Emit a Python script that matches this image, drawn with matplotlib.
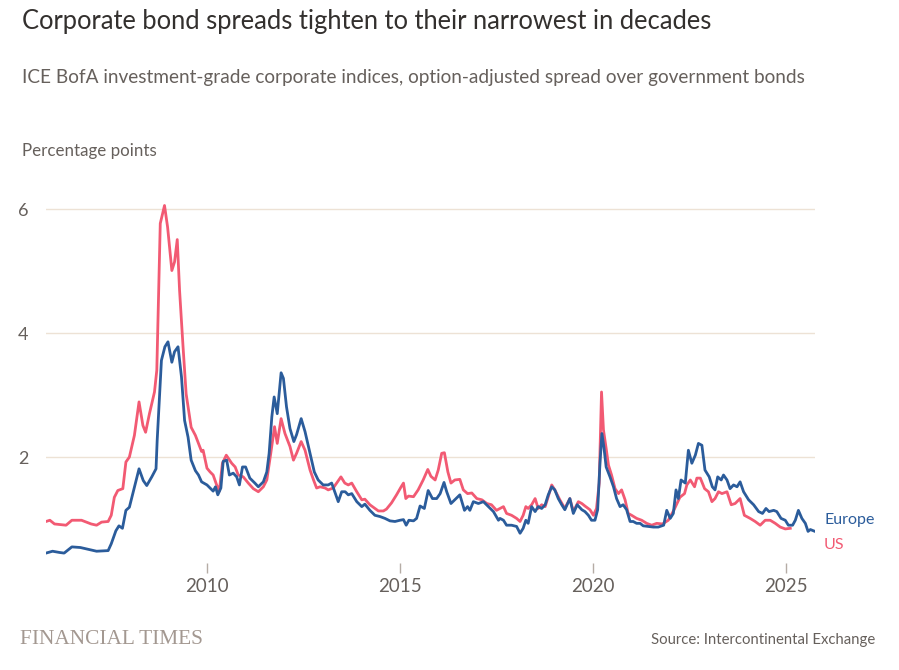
#!/usr/bin/env python3
# -*- coding: utf-8 -*-
"""
Corporate bond spreads: ICE BofA IG option-adjusted spreads, US vs Europe.
"""

import matplotlib

matplotlib.use("Agg")
import matplotlib.pyplot as plt

# decimal years and spread values (percentage points)
us_years = [
    2005.83, 2005.93, 2006.05, 2006.2, 2006.35, 2006.5, 2006.75, 2007.0, 2007.14,
    2007.27, 2007.44, 2007.52, 2007.6, 2007.69, 2007.82, 2007.9, 2007.99, 2008.12,
    2008.24, 2008.34, 2008.41, 2008.51, 2008.64, 2008.7, 2008.79, 2008.9, 2008.98,
    2009.09, 2009.16, 2009.23, 2009.29, 2009.38, 2009.46, 2009.59, 2009.7, 2009.78,
    2009.86, 2009.9, 2010.0, 2010.08, 2010.16, 2010.25, 2010.32, 2010.4, 2010.5,
    2010.64, 2010.73, 2010.81, 2010.94, 2011.07, 2011.2, 2011.33, 2011.46, 2011.55,
    2011.65, 2011.75, 2011.82, 2011.92, 2012.02, 2012.15, 2012.24, 2012.32, 2012.44,
    2012.54, 2012.67, 2012.76, 2012.84, 2012.93, 2013.06, 2013.14, 2013.27, 2013.47,
    2013.57, 2013.66, 2013.75, 2013.88, 2014.01, 2014.09, 2014.22, 2014.35, 2014.44,
    2014.57, 2014.65, 2014.78, 2014.91, 2015.03, 2015.09, 2015.15, 2015.22, 2015.35,
    2015.47, 2015.6, 2015.72, 2015.8, 2015.91, 2015.99, 2016.08, 2016.15, 2016.24,
    2016.32, 2016.42, 2016.55, 2016.64, 2016.75, 2016.86, 2016.99, 2017.12, 2017.25,
    2017.37, 2017.5, 2017.59, 2017.68, 2017.76, 2017.89, 2018.02, 2018.11, 2018.19,
    2018.26, 2018.32, 2018.41, 2018.5, 2018.58, 2018.67, 2018.76, 2018.84, 2018.93,
    2019.01, 2019.14, 2019.27, 2019.4, 2019.49, 2019.62, 2019.71, 2019.79, 2019.92,
    2020.01, 2020.09, 2020.16, 2020.22, 2020.27, 2020.34, 2020.4, 2020.48, 2020.57,
    2020.66, 2020.74, 2020.83, 2020.91, 2021.0, 2021.13, 2021.26, 2021.39, 2021.52,
    2021.65, 2021.8, 2021.95, 2022.1, 2022.25, 2022.37, 2022.43, 2022.52, 2022.63,
    2022.69, 2022.78, 2022.89, 2022.99, 2023.08, 2023.16, 2023.25, 2023.34, 2023.47,
    2023.58, 2023.68, 2023.81, 2023.92, 2024.07, 2024.2, 2024.33, 2024.46, 2024.59,
    2024.72, 2024.85, 2024.98, 2025.11,
]
us_spread = [
    0.96, 0.98, 0.92, 0.91, 0.90, 0.98, 0.98, 0.92, 0.90,
    0.95, 0.96, 1.06, 1.35, 1.46, 1.49, 1.92, 2.00, 2.35,
    2.89, 2.51, 2.40, 2.70, 3.05, 3.40, 5.77, 6.06, 5.71,
    5.01, 5.15, 5.51, 4.69, 3.78, 3.02, 2.48, 2.35, 2.22,
    2.09, 2.11, 1.82, 1.76, 1.71, 1.55, 1.45, 1.90, 2.03,
    1.90, 1.84, 1.71, 1.68, 1.58, 1.49, 1.44, 1.52, 1.63,
    2.05, 2.49, 2.22, 2.62, 2.38, 2.17, 1.95, 2.06, 2.25,
    2.11, 1.79, 1.63, 1.50, 1.52, 1.50, 1.47, 1.50, 1.68,
    1.58, 1.55, 1.58, 1.44, 1.31, 1.32, 1.23, 1.17, 1.13,
    1.13, 1.16, 1.26, 1.39, 1.52, 1.58, 1.33, 1.37, 1.36,
    1.47, 1.63, 1.80, 1.69, 1.63, 1.79, 2.06, 2.07, 1.76,
    1.58, 1.63, 1.64, 1.47, 1.41, 1.42, 1.33, 1.31, 1.25,
    1.23, 1.14, 1.17, 1.20, 1.09, 1.06, 1.01, 0.96, 1.06,
    1.20, 1.17, 1.23, 1.33, 1.17, 1.23, 1.20, 1.36, 1.55,
    1.47, 1.31, 1.17, 1.33, 1.12, 1.28, 1.25, 1.21, 1.15,
    1.06, 1.17, 1.58, 3.05, 2.44, 2.14, 1.87, 1.71, 1.49,
    1.41, 1.47, 1.31, 1.09, 1.06, 1.01, 0.98, 0.93, 0.90,
    0.93, 0.92, 0.98, 1.15, 1.35, 1.41, 1.55, 1.63, 1.52,
    1.66, 1.66, 1.49, 1.44, 1.28, 1.33, 1.44, 1.41, 1.44,
    1.23, 1.25, 1.33, 1.06, 1.01, 0.96, 0.90, 0.98, 0.98,
    0.93, 0.87, 0.84, 0.85,
]

europe_years = [
    2005.83, 2006.0, 2006.18, 2006.3, 2006.5, 2006.72, 2007.0, 2007.14, 2007.44,
    2007.52, 2007.64, 2007.72, 2007.81, 2007.9, 2007.99, 2008.12, 2008.24, 2008.35,
    2008.44, 2008.57, 2008.68, 2008.71, 2008.82, 2008.91, 2008.99, 2009.09, 2009.16,
    2009.25, 2009.34, 2009.42, 2009.51, 2009.59, 2009.7, 2009.78, 2009.86, 2010.0,
    2010.08, 2010.16, 2010.22, 2010.28, 2010.36, 2010.42, 2010.51, 2010.58, 2010.68,
    2010.77, 2010.84, 2010.92, 2011.0, 2011.11, 2011.24, 2011.33, 2011.46, 2011.55,
    2011.61, 2011.68, 2011.74, 2011.82, 2011.92, 2011.98, 2012.06, 2012.15, 2012.25,
    2012.32, 2012.44, 2012.54, 2012.67, 2012.78, 2012.88, 2013.01, 2013.14, 2013.23,
    2013.32, 2013.4, 2013.49, 2013.58, 2013.66, 2013.75, 2013.88, 2014.01, 2014.09,
    2014.22, 2014.35, 2014.48, 2014.61, 2014.74, 2014.87, 2015.0, 2015.09, 2015.16,
    2015.23, 2015.35, 2015.43, 2015.52, 2015.63, 2015.73, 2015.84, 2015.95, 2016.04,
    2016.14, 2016.21, 2016.32, 2016.42, 2016.55, 2016.67, 2016.75, 2016.81, 2016.9,
    2017.03, 2017.16, 2017.29, 2017.42, 2017.55, 2017.59, 2017.68, 2017.76, 2017.89,
    2018.02, 2018.11, 2018.19, 2018.26, 2018.32, 2018.41, 2018.5, 2018.58, 2018.67,
    2018.76, 2018.84, 2018.93, 2019.01, 2019.1, 2019.19, 2019.27, 2019.4, 2019.49,
    2019.59, 2019.71, 2019.79, 2019.88, 2019.96, 2020.05, 2020.12, 2020.18, 2020.23,
    2020.28, 2020.34, 2020.44, 2020.53, 2020.61, 2020.7, 2020.78, 2020.87, 2020.96,
    2021.04, 2021.13, 2021.22, 2021.3, 2021.43, 2021.56, 2021.69, 2021.83, 2021.91,
    2022.0, 2022.08, 2022.15, 2022.21, 2022.28, 2022.39, 2022.47, 2022.56, 2022.65,
    2022.73, 2022.82, 2022.9, 2023.01, 2023.09, 2023.16, 2023.23, 2023.32, 2023.38,
    2023.47, 2023.55, 2023.64, 2023.73, 2023.81, 2023.9, 2024.03, 2024.16, 2024.29,
    2024.39, 2024.48, 2024.56, 2024.68, 2024.76, 2024.87, 2024.98, 2025.06, 2025.17,
    2025.24, 2025.32, 2025.41, 2025.5, 2025.57, 2025.63, 2025.75,
]
europe_spread = [
    0.45, 0.48, 0.46, 0.45, 0.55, 0.54, 0.50, 0.48, 0.49,
    0.60, 0.81, 0.89, 0.85, 1.14, 1.19, 1.51, 1.81, 1.62,
    1.54, 1.68, 1.81, 2.27, 3.56, 3.78, 3.86, 3.53, 3.70,
    3.78, 3.29, 2.59, 2.32, 1.95, 1.78, 1.71, 1.60, 1.55,
    1.50, 1.45, 1.52, 1.39, 1.50, 1.93, 1.95, 1.71, 1.74,
    1.68, 1.55, 1.84, 1.84, 1.66, 1.58, 1.52, 1.60, 1.76,
    2.06, 2.65, 2.97, 2.70, 3.36, 3.27, 2.81, 2.46, 2.25,
    2.36, 2.62, 2.41, 2.06, 1.76, 1.63, 1.55, 1.55, 1.58,
    1.42, 1.28, 1.44, 1.44, 1.39, 1.41, 1.28, 1.20, 1.24,
    1.14, 1.06, 1.04, 1.01, 0.97, 0.96, 0.98, 0.99, 0.90,
    0.98, 0.97, 1.01, 1.21, 1.17, 1.46, 1.33, 1.33, 1.41,
    1.59, 1.44, 1.25, 1.31, 1.39, 1.14, 1.20, 1.14, 1.28,
    1.25, 1.28, 1.20, 1.12, 0.98, 1.01, 0.98, 0.90, 0.90,
    0.88, 0.77, 0.85, 0.98, 0.93, 1.20, 1.12, 1.20, 1.17,
    1.23, 1.39, 1.52, 1.47, 1.33, 1.23, 1.15, 1.33, 1.09,
    1.23, 1.15, 1.12, 1.06, 0.98, 0.98, 1.15, 1.90, 2.38,
    2.17, 1.84, 1.68, 1.52, 1.33, 1.20, 1.23, 1.15, 0.96,
    0.96, 0.93, 0.93, 0.89, 0.88, 0.87, 0.87, 0.90, 1.14,
    1.01, 1.09, 1.47, 1.33, 1.63, 1.58, 2.11, 1.90, 2.03,
    2.22, 2.19, 1.79, 1.68, 1.52, 1.47, 1.68, 1.63, 1.71,
    1.63, 1.49, 1.55, 1.52, 1.60, 1.44, 1.31, 1.23, 1.12,
    1.09, 1.17, 1.12, 1.14, 1.12, 1.01, 0.98, 0.90, 0.90,
    0.98, 1.14, 1.01, 0.93, 0.80, 0.83, 0.80,
]

y_ticks = [2, 4, 6]
x_ticks = [2010, 2015, 2020, 2025]

EUROPE_COLOR = "#2b5c9b"
US_COLOR = "#f25a73"
TEXT_DARK = "#33302e"
TEXT_GREY = "#66605c"
GRID_COLOR = "#ede2d5"

W, H = 899, 670
plt.rcParams["font.family"] = ["Lato", "DejaVu Sans"]

fig = plt.figure(figsize=(W / 100, H / 100), dpi=100, facecolor="white")


def px(x, y):
    """pixel coords (from top-left) to figure fraction"""
    return x / W, 1 - y / H


ax = fig.add_axes([46 / W, 1 - 563 / H, (815 - 46) / W, (563 - 190) / H])

ax.plot(us_years, us_spread, color=US_COLOR, lw=2.0, solid_joinstyle="round", zorder=3)
ax.plot(europe_years, europe_spread, color=EUROPE_COLOR, lw=2.0, solid_joinstyle="round", zorder=4)

ax.set_xlim(2005.83, 2025.75)
ax.set_ylim(0.29, 6.31)

ax.set_yticks(y_ticks)
ax.set_yticklabels([str(t) for t in y_ticks])
ax.set_xticks(x_ticks)
ax.set_xticklabels([str(t) for t in x_ticks])

ax.grid(axis="y", color=GRID_COLOR, lw=1.0, zorder=0)
for spine in ax.spines.values():
    spine.set_visible(False)

ax.tick_params(axis="y", length=0, pad=20, labelsize=13, labelcolor=TEXT_GREY)
ax.tick_params(axis="x", length=7, width=1, color="#b5aca5", pad=4, labelsize=13.5,
               labelcolor=TEXT_GREY)
for lbl in ax.get_yticklabels():
    lbl.set_horizontalalignment("left")

# series labels
fig.text(*px(824, 520), "Europe", color=EUROPE_COLOR, fontsize=11.5, va="center", ha="left")
fig.text(*px(824, 545), "US", color=US_COLOR, fontsize=11.5, va="center", ha="left")

# headings
fig.text(*px(22, 21), "Corporate bond spreads tighten to their narrowest in decades",
         color=TEXT_DARK, fontsize=18.4, va="center", ha="left")
fig.text(*px(22, 77), "ICE BofA investment-grade corporate indices, option-adjusted spread over government bonds",
         color=TEXT_GREY, fontsize=13.7, va="center", ha="left")
fig.text(*px(22, 151), "Percentage points", color=TEXT_GREY, fontsize=12.2, va="center", ha="left")

# footer
fig.text(*px(20, 639), "FINANCIAL TIMES", color="#a39891", fontsize=15.4,
         family="Liberation Serif", va="center", ha="left")
fig.text(*px(875, 640), "Source: Intercontinental Exchange", color=TEXT_GREY,
         fontsize=10.7, va="center", ha="right")

fig.savefig("out.png", dpi=100, facecolor="white")
